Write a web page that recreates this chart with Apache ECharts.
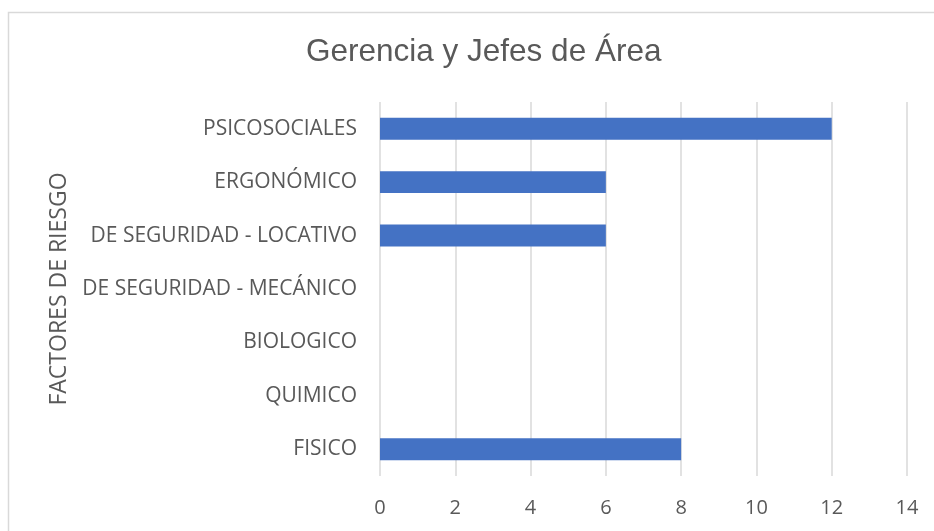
<!DOCTYPE html>
<html>
<head>
<meta charset="utf-8">
<script src="https://cdn.jsdelivr.net/npm/echarts@6/dist/echarts.min.js"></script>
<style>
  html, body { margin: 0; padding: 0; background: #fff; }
  #chart { width: 934px; height: 531px; }
</style>
</head>
<body>
<div id="chart"></div>
<script>
// factores de riesgo, de arriba hacia abajo
const categorias = ['PSICOSOCIALES', 'ERGONÓMICO', 'DE SEGURIDAD - LOCATIVO', 'DE SEGURIDAD - MECÁNICO', 'BIOLOGICO', 'QUIMICO', 'FISICO']
const valores = [12, 6, 6, 0, 0, 0, 8]
const ticksX = [0, 2, 4, 6, 8, 10, 12, 14]

const myChart = echarts.init(document.getElementById('chart'))
const textColor = '#595959'
const fontFam = 'Open Sans, Noto Sans, sans-serif'

const option = {
  animation: false,
  title: {
    text: 'Gerencia y Jefes de Área',
    left: 301,
    top: 31,
    textStyle: {
      color: textColor,
      fontFamily: 'Liberation Sans, Arial, sans-serif',
      fontSize: 31.5,
      fontWeight: 'normal'
    }
  },
  graphic: [
    {
      type: 'rect',
      shape: { x: 8.5, y: 12.5, width: 1000, height: 600 },
      style: { fill: 'none', stroke: '#d9d9d9', lineWidth: 1.5 },
      silent: true
    }
  ],
  grid: {
    left: 380,
    right: 27,
    top: 102,
    bottom: 55
  },
  xAxis: {
    type: 'value',
    min: ticksX[0],
    max: ticksX[ticksX.length - 1],
    interval: 2,
    axisLine: { show: false },
    axisTick: { show: false },
    axisLabel: {
      color: textColor,
      fontFamily: fontFam,
      fontSize: 20,
      margin: 22
    },
    splitLine: {
      lineStyle: { color: '#d9d9d9', width: 1.5 }
    }
  },
  yAxis: {
    type: 'category',
    inverse: true,
    data: categorias,
    name: 'FACTORES DE RIESGO',
    nameLocation: 'middle',
    nameGap: 305,
    nameRotate: 90,
    nameTextStyle: {
      color: textColor,
      fontFamily: fontFam,
      fontSize: 23
    },
    axisLine: { show: false },
    axisTick: { show: false },
    axisLabel: {
      color: textColor,
      fontFamily: fontFam,
      fontSize: 21,
      margin: 23
    }
  },
  series: [
    {
      type: 'bar',
      data: valores,
      barWidth: '41%',
      itemStyle: { color: '#4472C4' }
    }
  ]
}
myChart.setOption(option)
</script>
</body>
</html>
